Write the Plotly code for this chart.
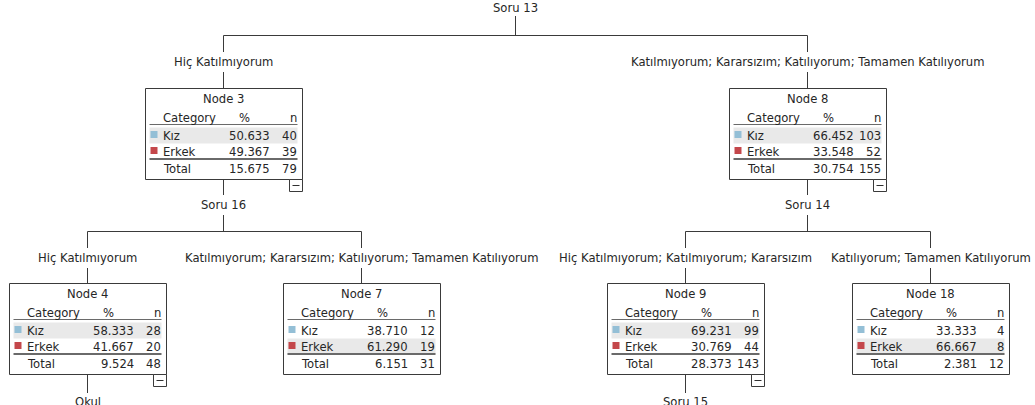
import plotly.graph_objects as go

# ---------------- data ----------------
categories = ["Kız", "Erkek"]
category_colors = ["#94bfd6", "#c4474b"]

node_names = ["Node 3", "Node 8", "Node 4", "Node 7", "Node 9", "Node 18"]
kiz_pct = [50.633, 66.452, 58.333, 38.710, 69.231, 33.333]
kiz_n = [40, 103, 28, 12, 99, 4]
erkek_pct = [49.367, 33.548, 41.667, 61.290, 30.769, 66.667]
erkek_n = [39, 52, 20, 19, 44, 8]
total_pct = [15.675, 30.754, 9.524, 6.151, 28.373, 2.381]
total_n = [79, 155, 48, 31, 143, 12]
branch_labels = [
    "Hiç Katılmıyorum",
    "Katılmıyorum; Kararsızım; Katılıyorum; Tamamen Katılıyorum",
    "Hiç Katılmıyorum",
    "Katılmıyorum; Kararsızım; Katılıyorum; Tamamen Katılıyorum",
    "Hiç Katılmıyorum; Katılmıyorum; Kararsızım",
    "Katılıyorum; Tamamen Katılıyorum",
]
split_vars = ["Soru 13", "Soru 16", "Soru 14", "Okul", "Soru 15"]

# ---------------- layout geometry ----------------
W, H = 1035, 405
node_x0 = [145, 729, 9, 283, 607, 852]
node_y0 = [88, 88, 283, 283, 283, 283]
BW, BH = 157, 91
expanded = [True, True, True, False, True, False]
root = dict(x=515, y=8, bar=35, children=[0, 1])
splits_from_nodes = {0: dict(var=1, bar=231, children=[2, 3]),
                     1: dict(var=2, bar=231, children=[4, 5]),
                     2: dict(var=3, bar=None, children=[]),
                     4: dict(var=4, bar=None, children=[])}

FONT = "DejaVu Sans"
FS = 11.6
TXT = "#262626"
LINE = "#3a3a3a"

shapes = []
annotations = []


def line(x0, y0, x1, y1, color=LINE, width=1):
    shapes.append(dict(type="line", xref="x", yref="y", x0=x0, y0=y0, x1=x1, y1=y1,
                       line=dict(color=color, width=width), layer="below"))


def rect(x0, y0, x1, y1, fill=None, color=LINE, width=1, layer="below"):
    shapes.append(dict(type="rect", xref="x", yref="y", x0=x0, y0=y0, x1=x1, y1=y1,
                       fillcolor=fill if fill else "rgba(0,0,0,0)",
                       line=dict(color=color, width=width), layer=layer))


def text(x, y, s, anchor="center", bg=None, pad=0, size=FS):
    annotations.append(dict(x=x, y=y, xref="x", yref="y", text=s, showarrow=False,
                            xanchor=anchor, yanchor="middle",
                            font=dict(family=FONT, size=size, color=TXT),
                            bgcolor=bg if bg else "rgba(0,0,0,0)",
                            borderpad=pad, borderwidth=0))


def cx(i):
    return node_x0[i] + 78.5


# root split
text(root["x"], root["y"], split_vars[0], bg="white", pad=1)
line(root["x"] + 0.5, 16, root["x"] + 0.5, root["bar"] + 0.5)
xs = [cx(c) for c in root["children"]]
line(min(xs), root["bar"] + 0.5, max(xs), root["bar"] + 0.5)
for c in root["children"]:
    line(cx(c), root["bar"] + 0.5, cx(c), node_y0[c])
    text(cx(c), (root["bar"] + node_y0[c]) / 2 + 0.5, branch_labels[c], bg="white", pad=3)

for p, sp in splits_from_nodes.items():
    bx = cx(p)
    top = node_y0[p] + BH
    ly = top + 25
    if sp["bar"] is not None:
        line(bx, top, bx, sp["bar"] + 0.5)
        text(bx, ly + 1, split_vars[sp["var"]], bg="white", pad=3)
        xs = [cx(c) for c in sp["children"]]
        line(min(xs), sp["bar"] + 0.5, max(xs), sp["bar"] + 0.5)
        for c in sp["children"]:
            line(cx(c), sp["bar"] + 0.5, cx(c), node_y0[c])
            text(cx(c), (sp["bar"] + node_y0[c]) / 2 + 0.5, branch_labels[c], bg="white", pad=3)
    else:
        line(bx, top, bx, top + 19)
        text(bx, top + 28, split_vars[sp["var"]])

# nodes
for i, name in enumerate(node_names):
    x0, y0 = node_x0[i] + 0.5, node_y0[i] + 0.5
    rect(x0, y0, x0 + BW, y0 + BH, fill="white", layer="below")
    pcts = [kiz_pct[i], erkek_pct[i]]
    ns = [kiz_n[i], erkek_n[i]]
    hi = 0 if pcts[0] >= pcts[1] else 1
    rows_y = [y0 + 47, y0 + 63]
    shapes.append(dict(type="rect", xref="x", yref="y", x0=x0 + 4, x1=x0 + 152,
                       y0=rows_y[hi] - 8, y1=rows_y[hi] + 8, fillcolor="#e9e9e9",
                       line=dict(width=0), layer="below"))
    text(x0 + 78, y0 + 10, name)
    text(x0 + 17, y0 + 29, "Category", anchor="left")
    text(x0 + 99, y0 + 29, "%")
    text(x0 + 151, y0 + 29, "n", anchor="right")
    line(x0 + 4, y0 + 36, x0 + 152, y0 + 36, color="#6a6a6a")
    for r in range(2):
        shapes.append(dict(type="rect", xref="x", yref="y", x0=x0 + 5, x1=x0 + 12,
                           y0=rows_y[r] - 4.5, y1=rows_y[r] + 2.5,
                           fillcolor=category_colors[r], line=dict(width=0), layer="below"))
        text(x0 + 17, rows_y[r] + 0.5, categories[r], anchor="left")
        text(x0 + 124, rows_y[r] + 0.5, f"{pcts[r]:.3f}", anchor="right")
        text(x0 + 151, rows_y[r] + 0.5, str(ns[r]), anchor="right")
    line(x0 + 4, y0 + 70.5, x0 + 152, y0 + 70.5, color="#6a6a6a", width=2)
    text(x0 + 17, y0 + 80, "Total", anchor="left")
    text(x0 + 124, y0 + 80, f"{total_pct[i]:.3f}", anchor="right")
    text(x0 + 151, y0 + 80, str(total_n[i]), anchor="right")
    if expanded[i]:
        rect(x0 + BW - 13, y0 + BH, x0 + BW, y0 + BH + 12, fill="white")
        line(x0 + BW - 10, y0 + BH + 6, x0 + BW - 3, y0 + BH + 6, color="#303030")

fig = go.Figure()
fig.add_trace(go.Scatter(x=[0, W], y=[0, H], mode="markers", marker=dict(opacity=0),
                         hoverinfo="skip", showlegend=False))
fig.update_layout(
    width=W, height=H, margin=dict(l=0, r=0, t=0, b=0),
    paper_bgcolor="white", plot_bgcolor="white",
    xaxis=dict(range=[0, W], visible=False, fixedrange=True),
    yaxis=dict(range=[H, 0], visible=False, fixedrange=True),
    shapes=shapes, annotations=annotations, showlegend=False,
)
fig.write_html("out.html", config={"displayModeBar": False},
               post_script="document.body.style.margin='0';document.body.style.overflow='hidden';")
